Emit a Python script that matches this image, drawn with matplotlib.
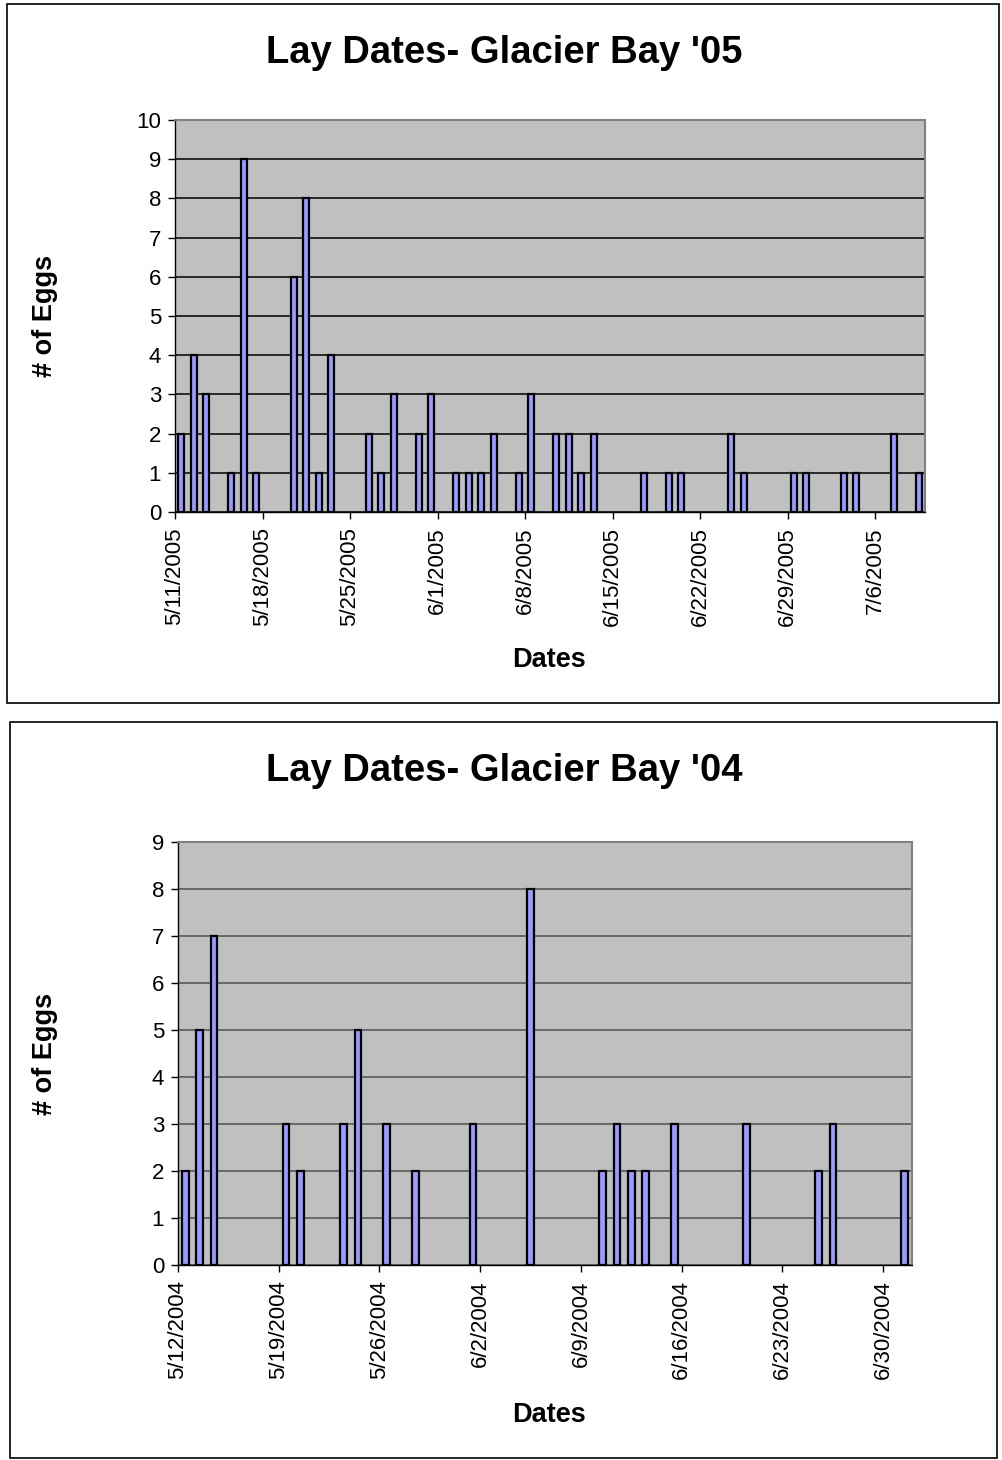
import numpy as np
import pandas as pd
import matplotlib
matplotlib.use('Agg')
import matplotlib.pyplot as plt
from matplotlib.patches import Rectangle

plt.rcParams['font.family'] = ['Liberation Sans', 'DejaVu Sans']

# 2005 season: lay dates and number of eggs
dates_05 = ['2005-05-11', '2005-05-12', '2005-05-13', '2005-05-15', '2005-05-16', '2005-05-17',
            '2005-05-20', '2005-05-21', '2005-05-22', '2005-05-23', '2005-05-26', '2005-05-27',
            '2005-05-28', '2005-05-30', '2005-05-31', '2005-06-02', '2005-06-03', '2005-06-04',
            '2005-06-05', '2005-06-07', '2005-06-08', '2005-06-10', '2005-06-11', '2005-06-12',
            '2005-06-13', '2005-06-17', '2005-06-19', '2005-06-20', '2005-06-24', '2005-06-25',
            '2005-06-29', '2005-06-30', '2005-07-03', '2005-07-04', '2005-07-07', '2005-07-09']
eggs_05 = [2, 4, 3, 1, 9, 1,
           6, 8, 1, 4, 2, 1,
           3, 2, 3, 1, 1, 1,
           2, 1, 3, 2, 2, 1,
           2, 1, 1, 1, 2, 1,
           1, 1, 1, 1, 2, 1]
range_05 = ('2005-05-11', '2005-07-09')

# 2004 season
dates_04 = ['2004-05-12', '2004-05-13', '2004-05-14', '2004-05-19', '2004-05-20', '2004-05-23',
            '2004-05-24', '2004-05-26', '2004-05-28', '2004-06-01', '2004-06-05', '2004-06-10',
            '2004-06-11', '2004-06-12', '2004-06-13', '2004-06-15', '2004-06-20', '2004-06-25',
            '2004-06-26', '2004-07-01']
eggs_04 = [2, 5, 7, 3, 2, 3,
           5, 3, 2, 3, 8, 2,
           3, 2, 2, 3, 3, 2,
           3, 2]
range_04 = ('2004-05-12', '2004-07-01')

W, H = 1002, 1460


def lay_chart(fig, rect, dates, eggs, drange, ymax, title, box, gridcol):
    """draw one Excel-style column chart with its border and labels"""
    l, t, r, b = rect
    ax = fig.add_axes([l / W, 1 - b / H, (r - l) / W, (b - t) / H])
    start = pd.Timestamp(drange[0])
    n_days = (pd.Timestamp(drange[1]) - start).days + 1
    x = [(pd.Timestamp(d) - start).days for d in dates]

    ax.set_facecolor('#C0C0C0')
    ax.set_axisbelow(True)
    ax.yaxis.grid(True, color=gridcol, linewidth=1.1)
    ax.bar(x, eggs, width=0.46, color='#9999FF', edgecolor='black', linewidth=1.6, zorder=3)

    ax.set_xlim(-0.5, n_days - 0.5)
    ax.set_ylim(0, ymax)
    ax.set_yticks(range(ymax + 1))

    ticks = np.arange(-0.5, n_days - 1, 7)
    labels = [(start + pd.Timedelta(days=int(k * 7))).strftime('%-m/%-d/%Y') for k in range(len(ticks))]
    ax.set_xticks(ticks)
    ax.set_xticklabels(labels, rotation=90)

    ax.tick_params(axis='y', direction='out', length=5, width=1, pad=5, labelsize=16)
    ax.tick_params(axis='x', direction='out', length=5, width=1, pad=6, labelsize=16)
    for s in ['top', 'right']:
        ax.spines[s].set_color('#808080')
        ax.spines[s].set_linewidth(1.5)
    for s in ['left', 'bottom']:
        ax.spines[s].set_color('black')
        ax.spines[s].set_linewidth(1)

    bl, bt, br, bb = box
    fig.add_artist(Rectangle((bl / W, 1 - bb / H), (br - bl) / W, (bb - bt) / H,
                             transform=fig.transFigure, fill=False,
                             edgecolor='black', linewidth=1.2))
    fig.text(504 / W, 1 - (bt + 49) / H, title, ha='center', va='center',
             fontsize=27.5, fontweight='bold')
    fig.text(45 / W, 1 - (t + b) / 2 / H, '# of Eggs', ha='center', va='center',
             rotation=90, fontsize=19.5, fontweight='bold')
    fig.text(549 / W, 1 - (bb - 43) / H, 'Dates', ha='center', va='center',
             fontsize=19.5, fontweight='bold')
    return ax


fig = plt.figure(figsize=(W / 100, H / 100), dpi=100)
lay_chart(fig, (175, 120, 925, 512), dates_05, eggs_05, range_05, 10,
          "Lay Dates- Glacier Bay '05", (7, 4, 999, 703), 'black')
lay_chart(fig, (178, 842, 912, 1265), dates_04, eggs_04, range_04, 9,
          "Lay Dates- Glacier Bay '04", (10, 722, 997, 1458), '#505050')

plt.savefig('out.png', dpi=100)
